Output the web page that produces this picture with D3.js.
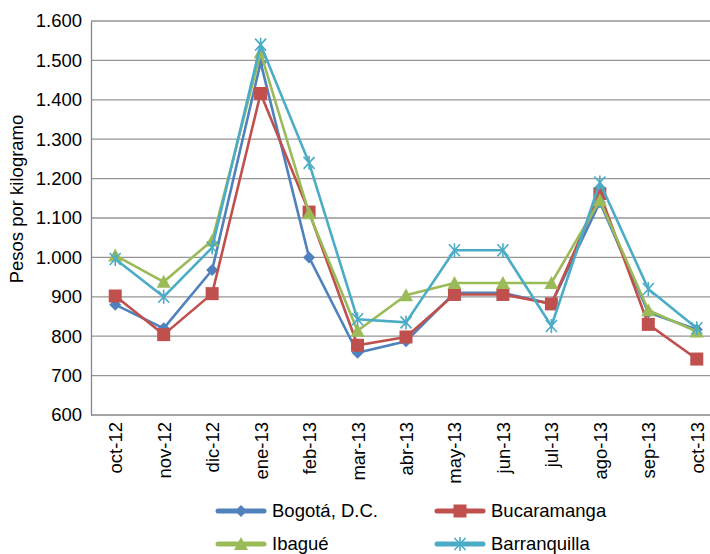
<!DOCTYPE html>
<html>
<head>
<meta charset="utf-8">
<script src="https://cdn.jsdelivr.net/npm/d3@7/dist/d3.min.js"></script>
<style>
  body { margin: 0; background: #fff; }
  svg text { font-family: "Liberation Sans", Arial, sans-serif; fill: #000; }
</style>
</head>
<body>
<div id="chart"></div>
<script>
// Data
const months = ["oct-12", "nov-12", "dic-12", "ene-13", "feb-13", "mar-13", "abr-13",
                "may-13", "jun-13", "jul-13", "ago-13", "sep-13", "oct-13"];
const bogota       = [880, 820, 968, 1495, 1000, 758, 787, 910, 910, 882, 1140, 860, 817];
const bucaramanga  = [902, 804, 908, 1416, 1115, 777, 798, 906, 906, 882, 1162, 830, 742];
const ibague       = [1005, 938, 1043, 1520, 1112, 814, 904, 935, 935, 935, 1145, 866, 812];
const barranquilla = [996, 900, 1025, 1540, 1240, 843, 835, 1018, 1018, 826, 1190, 920, 820];
const yTicks = [600, 700, 800, 900, 1000, 1100, 1200, 1300, 1400, 1500, 1600];

const series = [
    {name: "Bogotá, D.C.", values: bogota, color: "#4F81BD", marker: "diamond"},
    {name: "Bucaramanga", values: bucaramanga, color: "#C0504D", marker: "square"},
    {name: "Ibagué", values: ibague, color: "#9BBB59", marker: "triangle"},
    {name: "Barranquilla", values: barranquilla, color: "#4BACC6", marker: "cross"}
];

const W = 710, H = 554;
const plot = {left: 91, right: 721, top: 21, bottom: 415};
const fontSize = 18.5;

const svg = d3.select("#chart").append("svg")
    .attr("width", W)
    .attr("height", H);

const x = d3.scalePoint()
    .domain(months)
    .range([plot.left, plot.right])
    .padding(0.5);

const y = d3.scaleLinear()
    .domain([600, 1600])
    .range([plot.bottom, plot.top]);

// gridlines
svg.append("g")
    .selectAll("line")
    .data(yTicks.filter(d => d > 600))
    .join("line")
    .attr("x1", plot.left).attr("x2", plot.right)
    .attr("y1", d => y(d)).attr("y2", d => y(d))
    .attr("stroke", "#969696")
    .attr("stroke-width", 1.3);

// y axis
const yAxis = svg.append("g")
    .attr("transform", `translate(${plot.left},0)`)
    .call(d3.axisLeft(y).tickValues(yTicks).tickSize(0).tickPadding(9)
        .tickFormat(d => d3.format(",")(d).replace(",", ".")));
yAxis.select(".domain").attr("stroke", "#868686").attr("stroke-width", 1.3);
yAxis.selectAll("text").attr("font-size", fontSize);

// x axis
const xAxis = svg.append("g")
    .attr("transform", `translate(0,${plot.bottom})`)
    .call(d3.axisBottom(x).tickSize(0));
xAxis.select(".domain").attr("stroke", "#868686").attr("stroke-width", 1.3)
    .attr("d", `M${plot.left},0H${plot.right}`);
xAxis.selectAll("text")
    .attr("font-size", fontSize)
    .attr("text-anchor", "end")
    .attr("transform", "rotate(-90)")
    .attr("x", -7)
    .attr("y", 0)
    .attr("dy", "0.35em");

// y axis title
svg.append("text")
    .attr("transform", "translate(23,199) rotate(-90)")
    .attr("text-anchor", "middle")
    .attr("font-size", fontSize)
    .text("Pesos por kilogramo");

function drawMarker(g, type, color) {
    if (type === "diamond") {
        g.append("path").attr("d", "M0,-6L6,0L0,6L-6,0Z").attr("fill", color);
    } else if (type === "square") {
        g.append("rect").attr("x", -6.5).attr("y", -6.5).attr("width", 13).attr("height", 13)
            .attr("fill", color);
    } else if (type === "triangle") {
        g.append("path").attr("d", "M0,-7L7,6L-7,6Z").attr("fill", color);
    } else {
        g.append("path").attr("d", "M-5.5,-6L5.5,6M-5.5,6L5.5,-6M0,-7V7")
            .attr("stroke", color).attr("stroke-width", 1.6).attr("fill", "none");
    }
}

const line = d3.line()
    .x((d, i) => x(months[i]))
    .y(d => y(d));

series.forEach(s => {
    const g = svg.append("g");
    g.append("path")
        .datum(s.values)
        .attr("d", line)
        .attr("fill", "none")
        .attr("stroke", s.color)
        .attr("stroke-width", 2.6);
    s.values.forEach((v, i) => {
        const m = g.append("g").attr("transform", `translate(${x(months[i])},${y(v)})`);
        drawMarker(m, s.marker, s.color);
    });
});

// legend
const legendPos = [[218, 511], [437, 511], [218, 544], [437, 544]];
series.forEach((s, i) => {
    const [lx, ly] = legendPos[i];
    const g = svg.append("g").attr("transform", `translate(${lx},${ly})`);
    g.append("line")
        .attr("x1", 0).attr("x2", 46)
        .attr("stroke", s.color).attr("stroke-width", 5).attr("stroke-linecap", "round");
    const m = g.append("g").attr("transform", "translate(23,0)");
    drawMarker(m, s.marker, s.color);
    g.append("text")
        .attr("x", 54)
        .attr("dy", "0.35em")
        .attr("font-size", fontSize)
        .text(s.name);
});
</script>
</body>
</html>
